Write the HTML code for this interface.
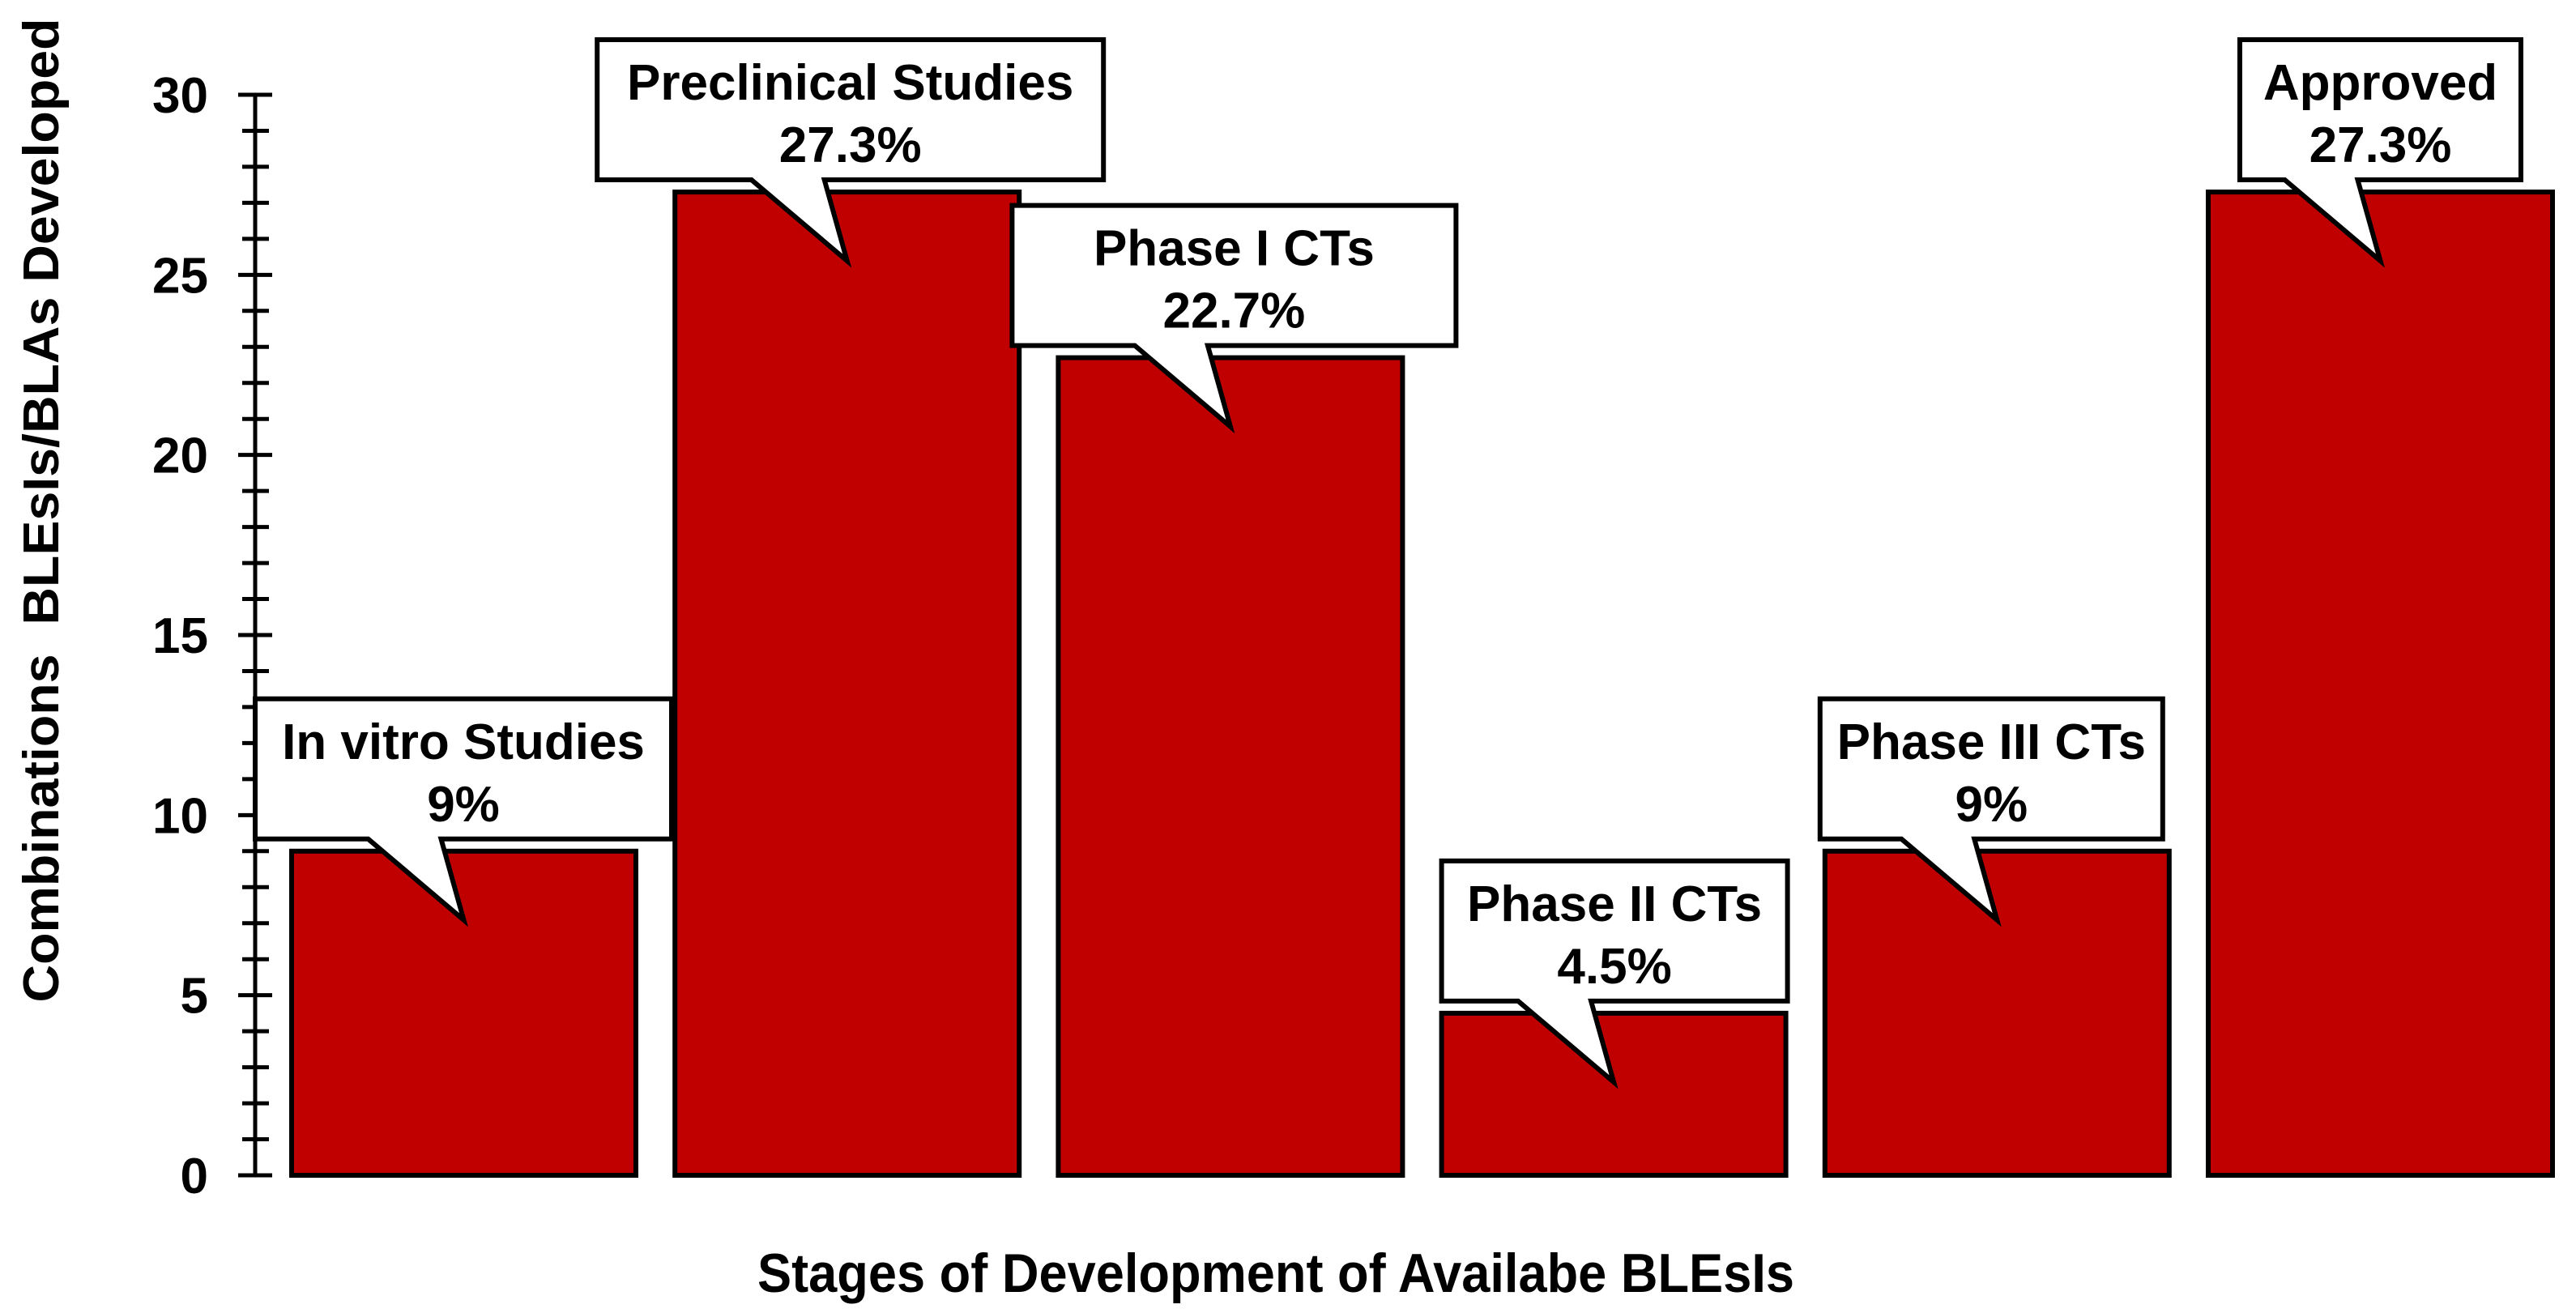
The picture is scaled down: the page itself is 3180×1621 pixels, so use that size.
<!DOCTYPE html>
<html><head><meta charset="utf-8"><style>
html,body{margin:0;padding:0;background:#fff;}
svg{display:block;font-family:"Liberation Sans",Arial,sans-serif;font-weight:bold;}
</style></head><body>
<svg id="chart" width="3180" height="1621" viewBox="0 0 3180 1621" xmlns="http://www.w3.org/2000/svg">
<text transform="translate(72,630) rotate(-90)" text-anchor="middle" font-size="62" textLength="1215" lengthAdjust="spacingAndGlyphs" xml:space="preserve">Combinations  BLEsIs/BLAs Developed</text>
<text x="1575" y="1595" text-anchor="middle" font-size="68" textLength="1280" lengthAdjust="spacingAndGlyphs">Stages of Development of Availabe BLEsIs</text>
</svg>
<script>
const categories = ["In vitro Studies","Preclinical Studies","Phase I CTs","Phase II CTs","Phase III CTs","Approved"];
const values = [9, 27.3, 22.7, 4.5, 9, 27.3];
const pctLabels = ["9%","27.3%","22.7%","4.5%","9%","27.3%"];
const yTicks = [0,5,10,15,20,25,30];
// callout box layout (pixels, not data)
const boxOffsets = [-45,-96,-57,0,-6,39];
const boxWidths = [514,625,548,427,423,347];

const svg = document.getElementById('chart');
const NS = 'http://www.w3.org/2000/svg';
const y0 = 1451, yTop = 117, yMax = 30;
const y = v => y0 - (v / yMax) * (y0 - yTop);
const barLeft0 = 360, stride = 473.2, barW = 425;
const x = i => barLeft0 + i * stride;
function mk(tag, attrs){ const e = document.createElementNS(NS, tag); for (const k in attrs) e.setAttribute(k, attrs[k]); svg.appendChild(e); return e; }

const axis = mk('line',{x1:315,y1:yTop,x2:315,y2:y0,stroke:'#000','stroke-width':5});


for (let v = 0; v <= yMax; v++) {
  const major = v % 5 === 0;
  const t = mk('line',{x1: major?294:299, x2: major?336:332, y1:y(v), y2:y(v), stroke:'#000','stroke-width':5});
  
  
}
yTicks.forEach(v => {
  const t = mk('text',{x:257,y:y(v)+22,'text-anchor':'end','font-size':62});
  t.textContent = v;
  
  
});

values.forEach((v,i) => {
  const r = mk('rect',{x:x(i),y:y(v),width:barW,height:y0-y(v),fill:'#c00000',stroke:'#000','stroke-width':6});
  
  
});

values.forEach((v,i) => {
  const top = y(v);
  const bx = x(i) + boxOffsets[i], bw = boxWidths[i];
  const bb = top - 15, bt = bb - 173;
  const cx = x(i) + barW/2;
  const tipY = top + 85;
  const d = `M${bx},${bt} L${bx+bw},${bt} L${bx+bw},${bb} L${cx-28},${bb} L${cx},${tipY} L${cx-118},${bb} L${bx},${bb} Z`;
  const p = mk('path',{d:d,fill:'#fff',stroke:'#000','stroke-width':6,'stroke-linejoin':'miter'});
  
  
  const tcx = bx + bw/2;
  const t1 = mk('text',{x:tcx,y:bt+74,'text-anchor':'middle','font-size':62});
  t1.textContent = categories[i];
  
  
  const t2 = mk('text',{x:tcx,y:bt+151,'text-anchor':'middle','font-size':62});
  t2.textContent = pctLabels[i];
  
  
});
</script>
</body></html>
